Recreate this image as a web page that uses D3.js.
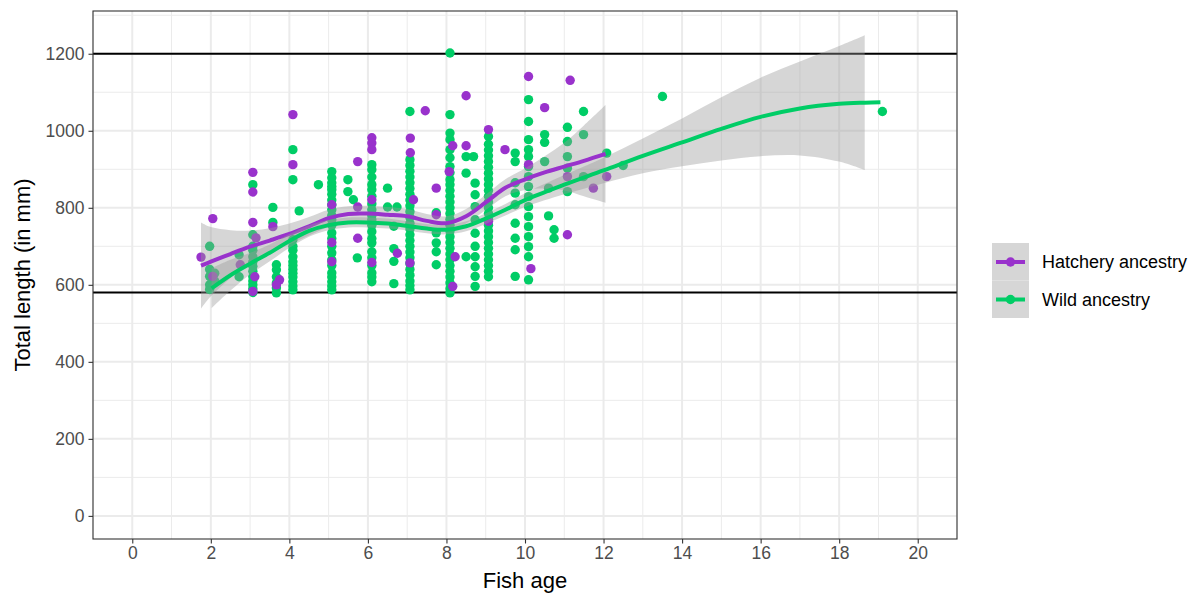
<!DOCTYPE html>
<html>
<head>
<meta charset="utf-8">
<script src="https://cdn.jsdelivr.net/npm/d3@7"></script>
<style>
  body { margin: 0; background: #fff; }
  svg { display: block; font-family: "Liberation Sans", Arial, sans-serif; }
</style>
</head>
<body>
<svg id="chart" width="1203" height="596"></svg>
<script>
// hatchery points (age, length)
var hatchAges = [1.75, 2.05, 2.05, 2.75, 3.07, 3.07, 3.07, 3.15, 3.12, 3.07, 3.58, 3.75, 3.67,
    4.09, 4.09, 5.08, 5.08, 5.08, 5.74, 5.74, 5.74, 6.1, 6.1, 6.1, 6.1, 6.1, 6.75,
    7.08, 7.08, 7.16, 7.07, 7.46, 7.74, 7.74, 8.07, 8.16, 8.22, 8.16, 8.5, 8.5,
    9.07, 9.07, 9.49, 10.09, 10.09, 10.15, 10.5, 11.15, 11.08, 11.08, 11.74, 12.08];
var hatchLengths = [672, 772, 622, 652, 892, 841, 762, 722, 621, 583, 751, 613, 600,
    1042, 912, 808, 710, 660, 920, 802, 721, 982, 968, 951, 821, 658, 682,
    981, 943, 821, 657, 1052, 851, 782, 894, 961, 673, 596, 1091, 961,
    1003, 765, 951, 1141, 912, 642, 1060, 1131, 881, 730, 851, 881];

// wild points, one column of lengths per age
var wildAges = [1.97, 2.1, 2.72, 3.07, 3.58, 3.67, 4.09, 4.25, 4.74, 5.08, 5.49, 5.63, 5.73,
    6.1, 6.5, 6.66, 6.74, 7.07, 7.74, 8.09, 8.5, 8.69, 8.73, 9.07, 9.75, 10.09,
    10.5, 10.6, 10.74, 11.08, 11.49, 12.08, 12.5, 13.5, 19.1];
var wildLengths = [
    [700, 640, 622, 600, 588],
    [630, 610],
    [678, 621],
    [860, 730, 700, 690, 673, 660, 648, 635, 621, 610, 600, 590, 580],
    [801, 762],
    [652, 639, 621, 605, 592, 579],
    [951, 873, 717, 700, 690, 673, 660, 650, 640, 630, 620, 608, 597, 587],
    [792],
    [860],
    [894, 878, 865, 855, 847, 835, 820, 808, 795, 780, 769, 755, 735, 720, 700, 683, 665, 650, 631, 620, 608, 597, 587],
    [873, 842],
    [821],
    [670],
    [912, 899, 880, 860, 847, 830, 810, 795, 780, 769, 755, 738, 720, 709, 686, 670, 650, 631, 620, 608],
    [851, 802],
    [752, 694, 661, 603],
    [802],
    [1050, 925, 910, 895, 880, 865, 850, 835, 820, 805, 790, 775, 760, 745, 730, 715, 700, 685, 670, 655, 640, 625, 610, 598, 587],
    [787, 735, 709, 686, 652],
    [1202, 1042, 994, 977, 951, 930, 907, 891, 873, 860, 845, 830, 815, 800, 785, 770, 755, 740, 725, 710, 695, 680, 665, 650, 635, 620, 605, 590, 579],
    [933, 890, 673],
    [933],
    [864, 834, 803, 769, 734, 700, 673, 647, 622, 596],
    [985, 965, 950, 935, 920, 905, 890, 875, 860, 845, 830, 815, 800, 785, 770, 755, 740, 725, 710, 695, 680, 665, 650, 635, 621],
    [942, 920, 865, 838, 808, 760, 721, 691, 622],
    [1081, 1024, 977, 951, 933, 907, 881, 855, 829, 803, 777, 751, 725, 699, 673, 613],
    [990, 970, 920],
    [851, 779],
    [743, 721],
    [1009, 972, 933, 903, 842],
    [1050, 990, 881],
    [942],
    [910],
    [1089],
    [1050]
];

// loess fits
var hatchSmoothAge = [1.75, 2, 2.5, 3, 3.5, 4, 4.5, 5, 5.5, 6, 6.5, 7, 7.5, 8, 8.5, 9, 9.5, 10, 10.5, 11, 11.5, 12.05];
var hatchFit = [650, 660, 680, 699, 715, 732, 752, 773, 784, 785, 782, 778, 766, 760, 778, 814, 852, 874, 892, 907, 922, 940];
var hatchSe = [112, 90, 62, 42, 32, 27, 24, 22, 20, 20, 20, 19, 18, 18, 19, 20, 22, 28, 42, 62, 92, 127];

var wildSmoothAge = [2.02, 2.5, 3, 3.5, 4, 4.5, 5, 5.5, 6, 6.5, 7, 7.5, 8, 8.5, 9, 9.5, 10, 11, 12, 13, 14, 15, 16, 17, 18, 18.65, 19.05];
var wildFit = [591, 625, 655, 683, 714, 740, 755, 762, 762, 759, 753, 746, 743, 752, 772, 795, 820, 860, 897, 935, 970, 1005, 1036, 1058, 1070, 1073, 1074];
var wildSe = [52, 40, 28, 22, 18, 15, 13, 13, 13, 13, 12, 12, 12, 13, 14, 15, 18, 25, 33, 45, 62, 82, 102, 122, 150, 175, null];

var refLines = [1200, 580];
var xTicks = [0, 2, 4, 6, 8, 10, 12, 14, 16, 18, 20];
var yTicks = [0, 200, 400, 600, 800, 1000, 1200];
var groups = ["Hatchery ancestry", "Wild ancestry"];
var colors = ["#9932CC", "#00CD66"];

(function () {
var svg = d3.select("#chart");
var pL = 93, pR = 957, pT = 11, pB = 539;

var x = d3.scaleLinear().domain([-1, 21]).range([pL, pR]);
var y = d3.scaleLinear().domain([-60, 1311]).range([pB, pT]);

// grid
var grid = svg.append("g");
var xMinor = d3.range(-1, 22, 2), yMinor = d3.range(100, 1311, 200);
grid.selectAll("line.xm").data(xMinor).enter().append("line")
    .attr("x1", d => x(d)).attr("x2", d => x(d)).attr("y1", pT).attr("y2", pB)
    .attr("stroke", "#EBEBEB").attr("stroke-width", 1);
grid.selectAll("line.ym").data(yMinor).enter().append("line")
    .attr("y1", d => y(d)).attr("y2", d => y(d)).attr("x1", pL).attr("x2", pR)
    .attr("stroke", "#EBEBEB").attr("stroke-width", 1);
grid.selectAll("line.xM").data(xTicks).enter().append("line")
    .attr("x1", d => x(d)).attr("x2", d => x(d)).attr("y1", pT).attr("y2", pB)
    .attr("stroke", "#EBEBEB").attr("stroke-width", 2);
grid.selectAll("line.yM").data(yTicks).enter().append("line")
    .attr("y1", d => y(d)).attr("y2", d => y(d)).attr("x1", pL).attr("x2", pR)
    .attr("stroke", "#EBEBEB").attr("stroke-width", 2);

// reference lines
svg.append("g").selectAll("line").data(refLines).enter().append("line")
    .attr("y1", d => y(d)).attr("y2", d => y(d)).attr("x1", pL).attr("x2", pR)
    .attr("stroke", "#000").attr("stroke-width", 2);

// points
var wildPts = [];
wildAges.forEach(function (a, i) {
    wildLengths[i].forEach(function (l) { wildPts.push([a, l]); });
});
var hatchPts = hatchAges.map(function (a, i) { return [a, hatchLengths[i]]; });

svg.append("g").selectAll("circle").data(wildPts).enter().append("circle")
    .attr("cx", d => x(d[0])).attr("cy", d => y(d[1])).attr("r", 4.7).attr("fill", colors[1]);
svg.append("g").selectAll("circle").data(hatchPts).enter().append("circle")
    .attr("cx", d => x(d[0])).attr("cy", d => y(d[1])).attr("r", 4.7).attr("fill", colors[0]);

// smooths
function drawSmooth(ages, fit, se, color) {
    var rows = ages.map(function (a, i) { return {x: a, fit: fit[i], se: se[i]}; });
    var area = d3.area()
        .defined(d => d.se != null)
        .curve(d3.curveCatmullRom)
        .x(d => x(d.x)).y0(d => y(d.fit - d.se)).y1(d => y(d.fit + d.se));
    var line = d3.line().curve(d3.curveCatmullRom).x(d => x(d.x)).y(d => y(d.fit));
    svg.append("path").datum(rows).attr("d", area).attr("fill", "#999999").attr("fill-opacity", 0.4);
    svg.append("path").datum(rows).attr("d", line).attr("fill", "none")
        .attr("stroke", color).attr("stroke-width", 4).attr("stroke-linecap", "butt");
}
drawSmooth(hatchSmoothAge, hatchFit, hatchSe, colors[0]);
drawSmooth(wildSmoothAge, wildFit, wildSe, colors[1]);

// panel border
svg.append("rect").attr("x", pL).attr("y", pT).attr("width", pR - pL).attr("height", pB - pT)
    .attr("fill", "none").attr("stroke", "#333333").attr("stroke-width", 1.1);

// axes
var xAxis = svg.append("g").attr("transform", "translate(0," + pB + ")")
    .call(d3.axisBottom(x).tickValues(xTicks).tickFormat(d3.format("d")).tickSize(4.5).tickPadding(3));
var yAxis = svg.append("g").attr("transform", "translate(" + pL + ",0)")
    .call(d3.axisLeft(y).tickValues(yTicks).tickFormat(d3.format("d")).tickSize(4.5).tickPadding(4));
[xAxis, yAxis].forEach(function (a) {
    a.select(".domain").remove();
    a.selectAll(".tick line").attr("stroke", "#333333").attr("stroke-width", 1.1);
    a.selectAll(".tick text").attr("fill", "#4D4D4D").style("font-size", "17.5px")
        .style("font-family", "'Liberation Sans', Arial, sans-serif");
});

svg.append("text").attr("x", (pL + pR) / 2).attr("y", 588).attr("text-anchor", "middle")
    .style("font-size", "22px").attr("fill", "#000").text("Fish age");
svg.append("text").attr("transform", "translate(30," + (pT + pB) / 2 + ") rotate(-90)")
    .attr("text-anchor", "middle").style("font-size", "22px").attr("fill", "#000")
    .text("Total length (in mm)");

// legend
var leg = svg.append("g").attr("transform", "translate(992,243)");
var key = leg.selectAll("g").data(groups).enter().append("g")
    .attr("transform", (d, i) => "translate(0," + i * 37.5 + ")");
key.append("rect").attr("width", 37).attr("height", 37.5).attr("fill", "#D6D6D6");
key.append("line").attr("x1", 4).attr("x2", 33).attr("y1", 19).attr("y2", 19)
    .attr("stroke", (d, i) => colors[i]).attr("stroke-width", 4);
key.append("circle").attr("cx", 18.5).attr("cy", 19).attr("r", 4.7).attr("fill", (d, i) => colors[i]);
key.append("text").attr("x", 50).attr("y", 25).style("font-size", "18px").attr("fill", "#000").text(d => d);
})();
</script>
</body>
</html>
